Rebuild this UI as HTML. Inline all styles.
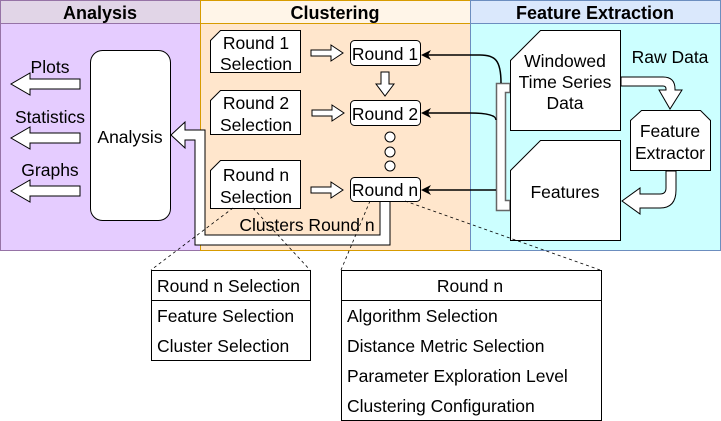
<!DOCTYPE html>
<html><head><meta charset="utf-8"><style>body{margin:0;background:#fff}svg{display:block}text{font-family:"Liberation Sans",sans-serif;font-size:17.5px;fill:#000}</style></head><body>
<svg width="721" height="421" viewBox="0 0 721 421" xmlns="http://www.w3.org/2000/svg">
<rect x="0.5" y="0.5" width="200" height="250" fill="#e5ccff" stroke="#9673a6"/>
<rect x="0.5" y="0.5" width="200" height="23" fill="#e1d5e7" stroke="#9673a6"/>
<rect x="200.5" y="0.5" width="270" height="250" fill="#ffe6cc" stroke="#d79b00"/>
<rect x="200.5" y="0.5" width="270" height="23" fill="#fff5e8" stroke="#d79b00"/>
<rect x="470.5" y="0.5" width="250" height="250" fill="#ccffff" stroke="#6c8ebf"/>
<rect x="470.5" y="0.5" width="250" height="23" fill="#dae8fc" stroke="#6c8ebf"/>
<g text-anchor="middle"><text x="100" y="19" style="font-weight:bold;font-size:18px">Analysis</text><text x="335" y="19" style="font-weight:bold;font-size:18px">Clustering</text><text x="595" y="19" style="font-weight:bold;font-size:18px">Feature Extraction</text></g>
<rect x="90.5" y="50.5" width="80" height="170" rx="12" fill="#fff" stroke="#000"/>
<text x="130" y="143" text-anchor="middle">Analysis</text>
<g fill="#fff" stroke="#000">
<path d="M80 79v10H30v6L11 84 30 73v6z"/>
<path d="M80 133v10H30v6L11 138 30 127v6z"/>
<path d="M80 186v10H30v6L11 191 30 180v6z"/>
</g>
<text x="50" y="73" text-anchor="middle">Plots</text>
<text x="50" y="123" text-anchor="middle">Statistics</text>
<text x="50" y="176" text-anchor="middle">Graphs</text>
<path d="M390 201V245H195V140H185v8L171 135 185 122v8H205V235H380V201z" fill="#fff" stroke="#000"/>
<text x="307" y="231" text-anchor="middle">Clusters Round n</text>
<g fill="#fff" stroke="#000">
<path d="M220.5 30.5H300.5V72.5H210.5V40.5z"/>
<path d="M220.5 90.5H300.5V134.5H210.5V100.5z"/>
<path d="M220.5 160.5H300.5V208.5H210.5V170.5z"/>
</g>
<g text-anchor="middle"><text x="256" y="49">Round 1</text><text x="256" y="70">Selection</text>
<text x="256" y="109">Round 2</text><text x="256" y="131">Selection</text>
<text x="256" y="181">Round n</text><text x="256" y="203">Selection</text></g>
<g fill="#fff" stroke="#000">
<path d="M311 50h20v-5l12 8-12 8v-5h-20z"/>
<path d="M312 110h20v-5l12 8-12 8v-5h-20z"/>
<path d="M311 187h20v-5l12 8-12 8v-5h-20z"/>
<path d="M381 72h8v12h5l-9 12-9-12h5z"/>
</g>
<g fill="#fff" stroke="#000">
<rect x="350.5" y="40.5" width="70" height="25" rx="4"/>
<rect x="350.5" y="100.5" width="70" height="25" rx="4"/>
<rect x="350.5" y="177.5" width="70" height="24" rx="4"/>
<circle cx="390" cy="137" r="5"/><circle cx="390" cy="152" r="5"/><circle cx="390" cy="166" r="5"/>
</g>
<g text-anchor="middle"><text x="385" y="60">Round 1</text><text x="385" y="120">Round 2</text><text x="385" y="196">Round n</text></g>
<path d="M496.5 83.5H510V92.5H505.5V200.5H510V210.5H496.5z" fill="#fff" stroke="#666" stroke-width="1.5"/>
<g fill="none" stroke="#000" stroke-width="1.5">
<path d="M501 83C501 60 495 55 480 55H428"/>
<path d="M496 120C496 116 490 113 470 113H428"/>
<path d="M496 190H428"/>
</g>
<g fill="#000"><path d="M421 55l10-5-3 5 3 5z"/><path d="M421 113l10-5-3 5 3 5z"/><path d="M421 190l10-5-3 5 3 5z"/></g>
<g fill="#fff" stroke="#000">
<path d="M540.5 30.5H620.5V130.5H510.5V60.5z"/>
<path d="M540.5 140.5H620.5V240.5H510.5V170.5z"/>
<path d="M641.5 110.5H700.5L710.5 120.5V170.5H630.5V120.5z"/>
<path d="M621 77H663Q675 77 675 89V90H682L670 109 659 90H666V89Q666 86 663 86H621z"/>
<path d="M666 171H676V190Q676 208 660 208H640V214L622 201 640 188V194H660Q666 194 666 188z"/>
</g>
<g text-anchor="middle"><text x="565" y="67">Windowed</text><text x="565" y="88">Time Series</text><text x="565" y="109">Data</text>
<text x="565" y="198">Features</text><text x="670" y="137">Feature</text><text x="670" y="159">Extractor</text>
<text x="670" y="63">Raw Data</text></g>
<g stroke="#000" stroke-width="0.8" stroke-dasharray="3,3" fill="none">
<path d="M233 208L151 270"/><path d="M253 208L310 270"/>
<path d="M370 201L341 270"/><path d="M405 201L600 270"/>
</g>
<g fill="#fff" stroke="#000">
<rect x="151.5" y="270.5" width="159" height="90"/><path d="M151 300.5H310"/>
<rect x="341.5" y="270.5" width="260" height="150"/><path d="M341 300.5H601"/>
</g>
<text x="157" y="292">Round n Selection</text><text x="157" y="322">Feature Selection</text><text x="157" y="352">Cluster Selection</text>
<text x="470" y="292" text-anchor="middle">Round n</text>
<text x="347" y="322">Algorithm Selection</text><text x="347" y="352">Distance Metric Selection</text>
<text x="347" y="382">Parameter Exploration Level</text><text x="347" y="412">Clustering Configuration</text>
</svg>
</body></html>
